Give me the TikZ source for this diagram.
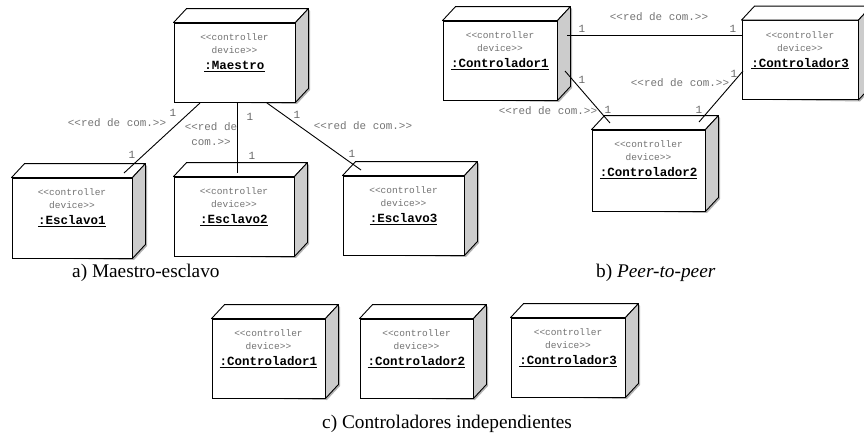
\documentclass[tikz,border=0pt]{standalone}
\usepackage{fontspec}
\setmainfont{Liberation Serif}
\newfontfamily\monofont{Liberation Mono}
\begin{document}
\begin{tikzpicture}[x=1pt,y=-1pt,
  devbox/.style={draw, line width=0.9pt, fill=white, inner sep=0pt},
  topface/.style={draw, line width=0.9pt, fill=white, line join=round},
  sideface/.style={draw, line width=0.9pt, fill=black!20, line join=round},
  shadowface/.style={fill=black!30},
  stereo/.style={font=\monofont\fontsize{9.5}{13}\selectfont, text=black!55, align=center, inner sep=0pt},
  devname/.style={font=\monofont\bfseries\fontsize{12.5}{14}\selectfont, inner sep=0pt},
  conn/.style={line width=0.9pt},
  mult/.style={font=\monofont\fontsize{11}{12}\selectfont, text=black!60, inner sep=0pt},
  netlbl/.style={font=\monofont\fontsize{10.9}{15}\selectfont, text=black!55, inner sep=0pt, align=center},
  caption/.style={font=\fontsize{19.3}{22}\selectfont, inner sep=0pt}
]
\useasboundingbox (0,0) rectangle (864,445);
\newcommand\devnode[6]{% name, cx, cy, w, h, label
  \fill[shadowface] (#2-#4/2+2,#3+#5/2) -- (#2+#4/2+2,#3+#5/2+2) -- (#2+#4/2+15,#3+#5/2-12) -- (#2+#4/2+15,#3-#5/2-12) -- (#2+#4/2+13,#3-#5/2-14) -- (#2+#4/2+13,#3+#5/2-14) -- (#2+#4/2,#3+#5/2) -- cycle;
  \node[devbox, minimum width=#4, minimum height=#5] (#1) at (#2,#3) {};
  \draw[topface] (#1.north west) -- ([shift={(13,-14)}]#1.north west) -- ([shift={(13,-14)}]#1.north east) -- (#1.north east) -- cycle;
  \draw[sideface] (#1.north east) -- ([shift={(13,-14)}]#1.north east) -- ([shift={(13,-14)}]#1.south east) -- (#1.south east) -- cycle;
  \node[stereo, anchor=north] (#1-s) at ([yshift=-11]#1.north) {<{}<controller\\device>{}>};
  \node[devname, anchor=base] (#1-n) at ([yshift=-47]#1.north) {\underline{:#6}};
}
% a) Maestro-esclavo
\devnode{maestro}{234.5}{62.5}{121}{79}{Maestro}
\devnode{esc1}{72}{218}{120}{80}{Esclavo1}
\devnode{esc2}{234}{216.5}{120}{79}{Esclavo2}
\devnode{esc3}{403.5}{215.5}{121}{79}{Esclavo3}
\coordinate (m1) at (200,103);
\coordinate (e1) at (124,173);
\coordinate (m2) at (237,103);
\coordinate (e2) at (237,173);
\coordinate (m3) at (267,103);
\coordinate (e3) at (361,170);
\draw[conn] (m1) -- (e1);
\draw[conn] (m2) -- (e2);
\draw[conn] (m3) -- (e3);
\node[mult] (l1a) at (173,113) {1};
\node[mult] (l1b) at (132,155) {1};
\node[mult] (l2a) at (250,117) {1};
\node[mult] (l2b) at (252,156) {1};
\node[mult] (l3a) at (297,115) {1};
\node[mult] (l3b) at (352,154) {1};
\node[netlbl] (n1) at (117,123) {<{}<red de com.>{}>};
\node[netlbl] (n2) at (211,134) {<{}<red de\\com.>{}>};
\node[netlbl] (n3) at (363,126) {<{}<red de com.>{}>};
\node[caption, anchor=base west] (capa) at (72,277) {a) Maestro-esclavo};
% b) Peer-to-peer
\devnode{c1}{500}{60.5}{114}{79}{Controlador1}
\devnode{c3}{800}{60}{116}{79}{Controlador3}
\devnode{c2}{648.5}{170.5}{113}{81}{Controlador2}
\coordinate (c1r) at (567,35);
\coordinate (c3l) at (743,35);
\coordinate (c1b) at (565,71);
\coordinate (c2a) at (610,123);
\coordinate (c3b) at (743,71);
\coordinate (c2b) at (699,122);
\draw[conn] (c1r) -- (c3l);
\draw[conn] (c1b) -- (c2a);
\draw[conn] (c3b) -- (c2b);
\node[mult] (p1a) at (582,29) {1};
\node[mult] (p1b) at (733,29) {1};
\node[mult] (p2a) at (582,80) {1};
\node[mult] (p2b) at (608,110) {1};
\node[mult] (p3a) at (734,74) {1};
\node[mult] (p3b) at (699,110) {1};
\node[netlbl] (pn1) at (659,17) {<{}<red de com.>{}>};
\node[netlbl] (pn2) at (548,111) {<{}<red de com.>{}>};
\node[netlbl] (pn3) at (680,83) {<{}<red de com.>{}>};
\node[caption, anchor=base west] (capb) at (596,277) {b) \textit{Peer-to-peer}};
% c) Controladores independientes
\devnode{i1}{268.5}{358.5}{113}{79}{Controlador1}
\devnode{i2}{416.5}{358.5}{113}{79}{Controlador2}
\devnode{i3}{568}{357.5}{114}{79}{Controlador3}
\node[caption, anchor=base west] (capc) at (322,428) {c) Controladores independientes};
\end{tikzpicture}
\end{document}
